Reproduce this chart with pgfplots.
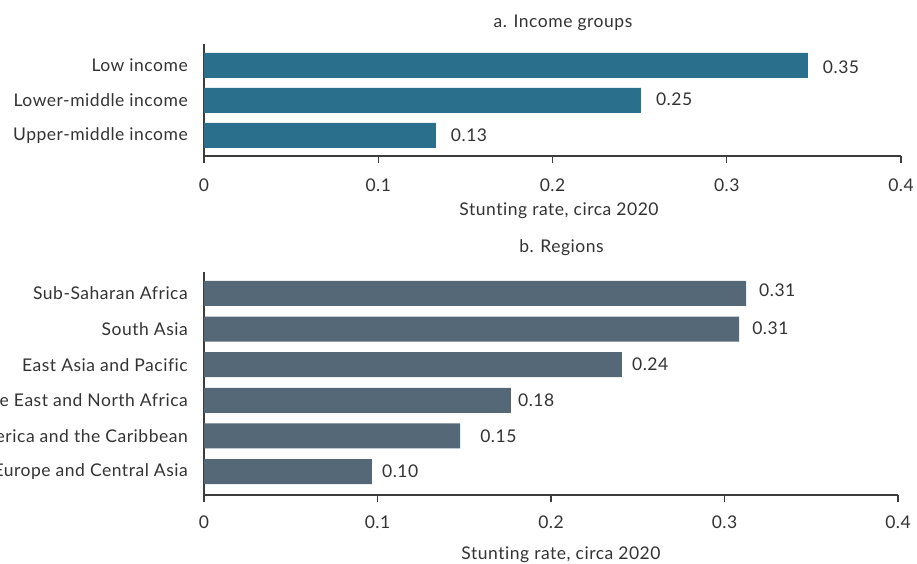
\documentclass[border=0pt]{standalone}
\usepackage{pgfplots}
\usepackage{pgfplotstable}
\pgfplotsset{compat=1.18}
\usepackage{fontspec}
\setmainfont[Ligatures=NoCommon, LetterSpace=3]{Lato}
\definecolor{barA}{HTML}{2A708C}
\definecolor{barB}{HTML}{546877}
\definecolor{txt}{HTML}{333333}
\definecolor{axl}{HTML}{3C3C3C}

\pgfplotstableread{
y x lab dx dy
3 0.3465 0.35 15 -1.5
2 0.2507 0.25 15 1
1 0.1330 0.13 15 0
}\income

\pgfplotstableread{
y x lab dx dy
6 0.3124 0.31 13 3
5 0.3084 0.31 13 1.2
4 0.2409 0.24 10 0
3 0.1769 0.18 7 0
2 0.1476 0.15 20 0
1 0.0968 0.10 10 0
}\regions

\newcommand{\myfont}{\fontsize{17.5}{20}\selectfont}

\pgfplotsset{
  mystyle/.style={
    scale only axis,
    xbar, 
    bar width=25pt,
    xmin=0, xmax=0.4,
    xtick={0,0.1,0.2,0.3,0.4},
    xticklabels={0,0.1,0.2,0.3,0.4},
    axis x line*=bottom,
    axis y line*=left,
    axis line style={draw=axl, line width=1.2pt},
    tick align=outside,
    major tick length=7pt,
    x tick style={draw=axl, line width=1.2pt},
    y tick style={draw=none},
    xtick pos=bottom,
    ytick pos=left,
    tick label style={text=txt, font=\myfont},
    xticklabel style={anchor=north, inner sep=0pt},
    yticklabel style={anchor=east, inner sep=0pt, xshift=-9pt},
    label style={text=txt, font=\myfont},
    title style={text=txt, font=\myfont, anchor=base, inner sep=0pt},
    nodes near coords,
    point meta=explicit symbolic,
    visualization depends on={\thisrow{dx} \as \dx},
    visualization depends on={\thisrow{dy} \as \dy},
    every node near coord/.append style={anchor=west, inner sep=0pt, xshift=\dx*1pt, yshift=\dy*1pt, text=txt, font=\myfont},
    xlabel={Stunting rate, circa 2020},
    clip=false,
  }
}

\begin{document}
\begin{tikzpicture}[font=\myfont]
\begin{axis}[mystyle,
  at={(204pt,-156pt)}, anchor=south west,
  width=697pt, height=112pt,
  ymin=0.414, ymax=3.614,
  ytick={1,2,3},
  yticklabels={Upper-middle income,Lower-middle income,Low income},
  xticklabel style={yshift=-15.5pt},
  title={a. Income groups},
  title style={at={(axis description cs:0.5,1)}, yshift=11pt, xshift=10.5pt},
  xlabel style={at={(axis description cs:0.5,0)}, anchor=base, inner sep=0pt, yshift=-59pt, xshift=6.5pt},
]
\addplot[fill=barA, draw=none] table[x=x, y=y, meta=lab] {\income};
\end{axis}

\begin{axis}[mystyle,
  at={(204pt,-495pt)}, anchor=south west,
  width=694pt, height=223pt,
  ymin=0.34, ymax=6.60,
  ytick={1,2,3,4,5,6},
  yticklabels={Europe and Central Asia,Latin America and the Caribbean,Middle East and North Africa,East Asia and Pacific,South Asia,Sub-Saharan Africa},
  xticklabel style={yshift=-13.5pt},
  title={b. Regions},
  title style={at={(axis description cs:0.5,1)}, yshift=14pt, xshift=10.5pt},
  xlabel style={at={(axis description cs:0.5,0)}, anchor=base, inner sep=0pt, yshift=-64pt, xshift=10pt},
]
\addplot[fill=barB, draw=none] table[x=x, y=y, meta=lab] {\regions};
\end{axis}
\pgfresetboundingbox
\useasboundingbox (0pt,0pt) rectangle (917pt,-563pt);
\end{tikzpicture}
\end{document}
